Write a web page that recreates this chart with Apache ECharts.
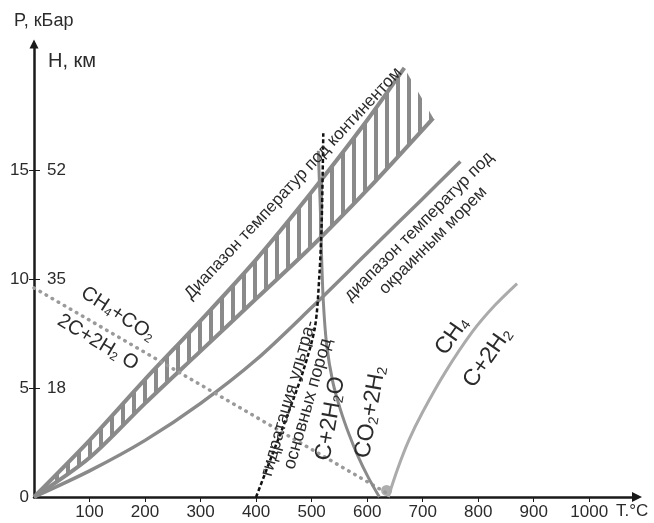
<!DOCTYPE html>
<html><head><meta charset="utf-8">
<script src="https://cdn.jsdelivr.net/npm/echarts@6/dist/echarts.min.js"></script>
<style>html,body{margin:0;padding:0;background:#fff}#c{width:654px;height:523px}</style>
</head><body><div id="c"></div>
<script>
// ---- data ----
const xTicks = [100,200,300,400,500,600,700,800,900,1000];
const pTicks = [0,5,10,15];
const depthTicks = [5,10,15];
const depthLabels = ['18','35','52'];

const contUpper = [[0,0],[100,2.6],[200,5.4],[300,8.1],[400,10.9],[500,14.0],[600,17.3],[667,19.7]];
const contLower = [[0,0],[100,1.8],[200,4.3],[300,6.7],[400,9.1],[500,11.5],[600,14.1],[719,17.4]];
const marine = [[0,0],[100,1.2],[200,2.6],[300,4.3],[400,6.3],[500,8.7],[600,11.2],[700,13.7],[768,15.4]];
const methaneOx = [[0,9.6],[634,0.2]];
const methaneOxEnd = [[635,0.3]];
const hydration = [[400,0],[430,2.0],[460,4.0],[485,5.8],[506,7.8],[514,10.2],[518,12.5],[520,15],[521,16.7]];
const waterGas = [[512,15.9],[516,13],[518,11],[521,9.0],[527,7.0],[538,5.3],[552,4.0],[567,2.9],[583,1.9],[602,0.9],[622,0]];
const methaneDec = [[638,0],[655,1.3],[675,2.6],[700,3.9],[740,5.7],[790,7.6],[830,8.8],[870,9.8]];

const FONT = '"Liberation Sans", Arial, sans-serif';
const TXT = '#2b2b2b';
const GRAY = '#8a8a8a';

// hatch pattern
const pc = document.createElement('canvas');
pc.width = 11; pc.height = 4;
const pctx = pc.getContext('2d');
pctx.fillStyle = GRAY; pctx.fillRect(0,0,4,4);

const chart = echarts.init(document.getElementById('c'), null, {renderer:'canvas'});

const option = {
  animation: false,
  backgroundColor: '#fff',
  grid: {left: 34, right: 17, top: 44, bottom: 26, containLabel: false},
  xAxis: {
    type: 'value', min: 0, max: 1086,
    splitLine: {show: false},
    axisLine: {lineStyle: {color: '#1a1a1a', width: 2.5}, symbol: ['none','triangle'], symbolSize: [10,10]},
    axisTick: {customValues: xTicks, length: 5, lineStyle: {color: '#1a1a1a', width: 1}},
    axisLabel: {customValues: xTicks, fontSize: 17, color: TXT, fontFamily: FONT, margin: 7, formatter: v => String(v)}
  },
  yAxis: [{
    type: 'value', min: 0, max: 20.8,
    splitLine: {show: false},
    axisLine: {lineStyle: {color: '#1a1a1a', width: 2.5}, symbol: ['none','triangle'], symbolSize: [9,9]},
    axisTick: {customValues: depthTicks, length: 5, lineStyle: {color: '#1a1a1a', width: 1}},
    axisLabel: {customValues: pTicks, fontSize: 17, color: TXT, fontFamily: FONT, margin: 5, formatter: v => String(v)}
  }, {
    type: 'value', min: 0, max: 20.8, position: 'left',
    splitLine: {show: false},
    axisLine: {show: false},
    axisTick: {customValues: depthTicks, inside: true, length: 6, lineStyle: {color: '#1a1a1a', width: 1}},
    axisLabel: {customValues: depthTicks, inside: true, margin: 13, fontSize: 17, color: TXT, fontFamily: FONT,
      formatter: v => depthLabels[depthTicks.indexOf(v)] || ''}
  }],
  series: [
    {
      type: 'custom', z: 1, silent: true, data: [0],
      renderItem: (params, api) => {
        const pts = contUpper.map(p => api.coord(p)).concat(contLower.slice().reverse().map(p => api.coord(p)));
        return {type: 'polygon', shape: {points: pts, smooth: 0}, style: {fill: {image: pc, repeat: 'repeat'}, stroke: null}};
      }
    },
    {type:'line', data: contUpper, smooth: 0.3, symbol:'none', z: 3, lineStyle:{color: GRAY, width: 4}},
    {type:'line', data: contLower, smooth: 0.3, symbol:'none', z: 3, lineStyle:{color: GRAY, width: 4}},
    {type:'line', data: marine, smooth: 0.3, symbol:'none', z: 3, lineStyle:{color: GRAY, width: 3.5}},
    {type:'line', data: methaneOx, symbol:'none', z: 3, lineStyle:{color: '#9a9a9a', width: 3.5, type:[0.5,6.5], cap:'round'}},
    {type:'scatter', data: methaneOxEnd, symbol:'circle', symbolSize: 11, z: 3, itemStyle:{color:'#9a9a9a'}},
    {type:'line', data: waterGas, smooth: 0.3, symbol:'none', z: 4, lineStyle:{color: GRAY, width: 3}},
    {type:'line', data: methaneDec, smooth: 0.3, symbol:'none', z: 4, lineStyle:{color: '#ababab', width: 3}},
    {type:'line', data: hydration, smooth: 0.3, symbol:'none', z: 5, lineStyle:{color: '#111', width: 2.5, type:[4,2.5]}}
  ]
};
chart.setOption(option);

// ---- annotations (anchored in data coordinates) ----
const deg = d => d * Math.PI / 180;
const mk = (n, s) => ({n: {fontSize: n, fontFamily: FONT, fill: TXT}, s: {fontSize: s, fontFamily: FONT, fill: TXT, padding: [Math.round(n*0.45),0,0,0]}});
const labels = [
  {at:[467,14.4], rot:47, text:'Диапазон температур под континентом', size:17},
  {at:[706,12.1], rot:45, text:'диапазон температур под\nокраинным морем', size:17, lh:20},
  {at:[151,8.4], rot:-33, rich:'{n|CH}{s|4}{n|+CO}{s|2}', size:20},
  {at:[115,7.1], rot:-31, rich:'{n|2C+2H}{s|2}{n| O}', size:20},
  {at:[476,4.4], rot:74, text:'гидратация ультра-\nосновных пород', size:18, lh:20},
  {at:[534,3.6], rot:80, rich:'{n|C+2H}{s|2}{n|O}', size:23},
  {at:[606,3.9], rot:80, rich:'{n|CO}{s|2}{n|+2H}{s|2}', size:23},
  {at:[753,7.4], rot:55, rich:'{n|CH}{s|4}', size:23},
  {at:[817,6.4], rot:55, rich:'{n|C+2H}{s|2}', size:23}
];
const graphics = labels.map(l => {
  const p = chart.convertToPixel({gridIndex:0}, l.at);
  const style = {align:'center', verticalAlign:'middle', fill: TXT, fontFamily: FONT, fontSize: l.size};
  if (l.rich) { style.text = l.rich; style.rich = mk(l.size, Math.round(l.size*0.6)); }
  else { style.text = l.text; if (l.lh) style.lineHeight = l.lh; }
  return {type:'text', x: p[0], y: p[1], rotation: deg(l.rot), style, z: 10};
});
graphics.push({type:'text', left: 14, top: 12, style:{text:'P, кБар', fontSize: 18, fontFamily: FONT, fill: TXT}});
graphics.push({type:'text', left: 48, top: 51, style:{text:'H, км', fontSize: 20, fontFamily: FONT, fill: TXT}});
graphics.push({type:'text', left: 616, top: 503, style:{text:'T.°C', fontSize: 17, fontFamily: FONT, fill: TXT}});
chart.setOption({graphic: graphics});
</script>
</body></html>
